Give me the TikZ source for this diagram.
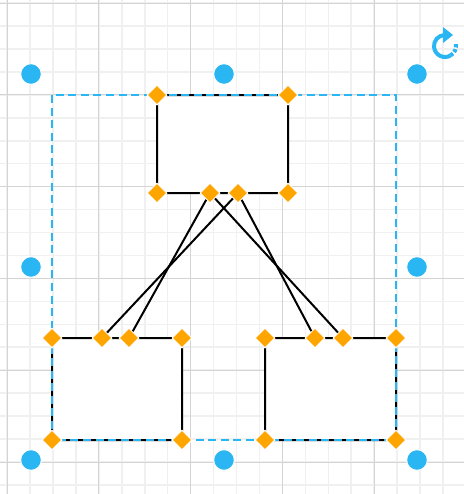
\documentclass[tikz,border=0pt]{standalone}
\usetikzlibrary{shapes.geometric}

\definecolor{selblue}{HTML}{29B6F2}
\definecolor{handleorange}{HTML}{FFA500}
\definecolor{gridminor}{HTML}{F0F0F0}
\definecolor{gridmajor}{HTML}{D4D4D4}

\tikzset{
  shapebox/.style={draw=black, line width=1.5pt, rounded corners=1.5pt, fill=white,
    inner sep=0pt, outer sep=0pt},
  vhandle/.style={diamond, fill=handleorange, draw=white, line width=0.75pt,
    minimum size=15pt, inner sep=0pt},
  rhandle/.style={circle, fill=selblue, draw=white, line width=0.75pt,
    minimum size=15.5pt, inner sep=0pt},
  link/.style={line width=1.5pt},
  selection/.style={selblue, line width=1.2pt, dash pattern=on 6pt off 3.4pt},
}

\begin{document}
\begin{tikzpicture}[x=0.75pt, y=-0.75pt]

% Background and frame
\fill[white] (0,0) rectangle (464,494);
\useasboundingbox (0,0) rectangle (464,494);

% Grid
\foreach \i in {0,...,19} \draw[gridminor, line width=1.2pt] (7+\i*22.95,0) -- (7+\i*22.95,494);
\foreach \j in {0,...,21} \draw[gridminor, line width=1.2pt] (0,3+\j*22.95) -- (464,3+\j*22.95);
\foreach \i in {0,4,...,16} \draw[gridmajor, line width=0.75pt] (7+\i*22.95,0) -- (7+\i*22.95,494);
\foreach \j in {0,4,...,20} \draw[gridmajor, line width=0.75pt] (0,3+\j*22.95) -- (464,3+\j*22.95);

% Shapes
\node[shapebox, minimum width=98.25pt, minimum height=73.5pt] (top) at (222.5,144) {};
\node[shapebox, minimum width=97.5pt, minimum height=76.5pt] (left) at (117,389) {};
\node[shapebox, minimum width=98.25pt, minimum height=76.5pt] (right) at (330.5,389) {};

% Selection border
\draw[selection] (left.west |- top.north) rectangle (right.east |- right.south);

% Vertex handles
\foreach \b in {top,left,right} {
  \node[vhandle] (\b-nw) at (\b.north west) {};
  \node[vhandle] (\b-ne) at (\b.north east) {};
  \node[vhandle] (\b-sw) at (\b.south west) {};
  \node[vhandle] (\b-se) at (\b.south east) {};
}
\node[vhandle] (ta) at (210,193) {};
\node[vhandle] (tb) at (238,193) {};
\node[vhandle] (la) at (102,338) {};
\node[vhandle] (lb) at (129,338) {};
\node[vhandle] (ra) at (315,338) {};
\node[vhandle] (rb) at (343,338) {};

% Connectors
\draw[link] (ta) -- (lb);
\draw[link] (tb) -- (la);
\draw[link] (ta) -- (rb);
\draw[link] (tb) -- (ra);

% Resize handles
\foreach \x/\y [count=\n] in {31/74, 224/74, 417/74, 31/267, 417/267, 31/460, 224/460, 417/460}
  \node[rhandle] (h\n) at (\x,\y) {};

% Rotate handle
\draw[selblue, line width=3pt] (445,46) ++(-95:11) arc[start angle=-95, end angle=-300, radius=11];
\draw[selblue, line width=3pt, dash pattern=on 2.4pt off 1.4pt] (445,46) ++(-300:11) arc[start angle=-300, end angle=-372, radius=11];
\fill[selblue] (443,27) -- (453,35) -- (443,43) -- cycle;

\end{tikzpicture}
\end{document}
